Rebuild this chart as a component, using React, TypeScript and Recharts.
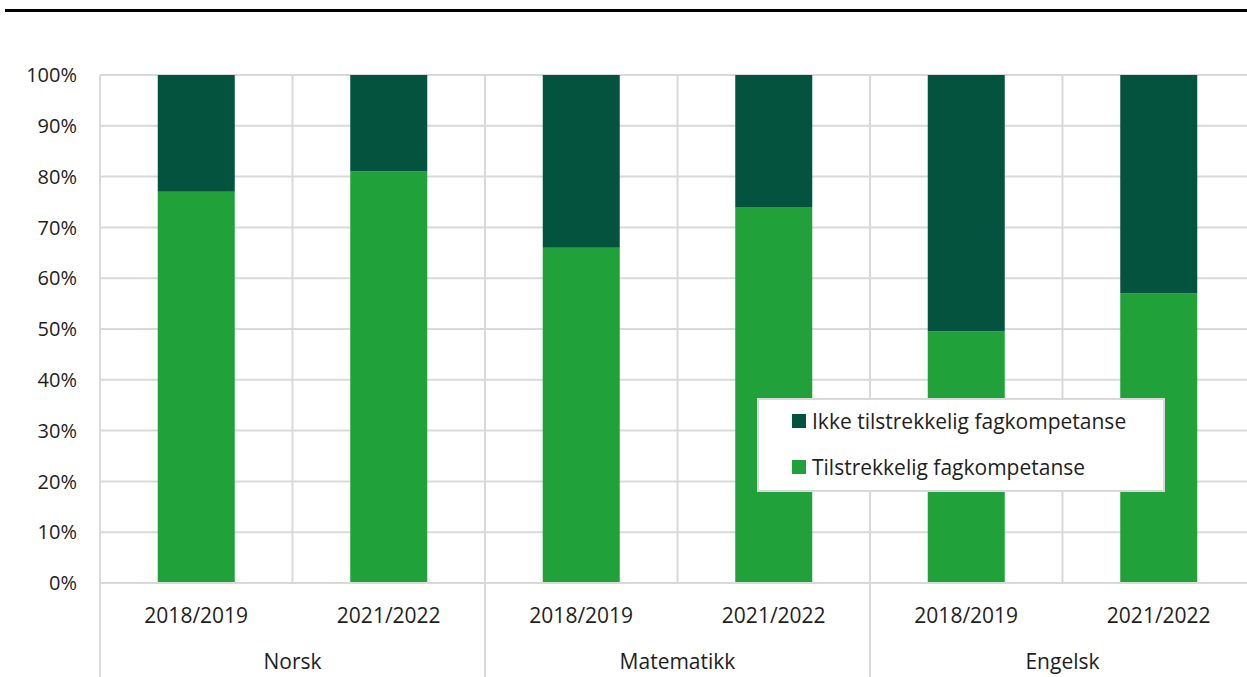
import React from "react";
import { Bar, BarChart, CartesianGrid, XAxis, YAxis } from "recharts";

const years = ["2018/2019", "2021/2022", "2018/2019", "2021/2022", "2018/2019", "2021/2022"];
const subjects = ["Norsk", "Norsk", "Matematikk", "Matematikk", "Engelsk", "Engelsk"];
const tilstrekkelig = [77, 81, 66, 74, 49.5, 57];
const ikkeTilstrekkelig = [23, 19, 34, 26, 50.5, 43];
const yTicks = [0, 10, 20, 30, 40, 50, 60, 70, 80, 90, 100];
const legendItems = ["Ikke tilstrekkelig fagkompetanse", "Tilstrekkelig fagkompetanse"];

const DARK = "#03533F";
const GREEN = "#21A13A";
const GRID = "#d9d9d9";
const TEXT = "#1e1e1e";
const FONT = "'Open Sans', 'Noto Sans', sans-serif";

const CHART_W = 1255;
const CHART_H = 677;
const LEFT = 100;
const TOP = 75;
const BAND = (CHART_W - LEFT) / years.length;

const data = years.map((year, i) => ({
  year,
  group: subjects[i],
  ok: tilstrekkelig[i],
  notOk: ikkeTilstrekkelig[i],
}));

// lower tier: subject name centred under its two years, with separators
const GroupTick = (props: any) => {
  const { x, y, payload, index } = props;
  const isStart = index === 0 || subjects[index - 1] !== payload.value;
  if (!isStart) return null;
  const left = x - BAND / 2;
  return (
    <g>
      <line x1={left} x2={left} y1={y - 47} y2={y + 50} stroke={GRID} strokeWidth={2} />
      <text
        x={x + BAND / 2}
        y={y + 39}
        textAnchor="middle"
        fill={TEXT}
        fontSize={21}
        fontFamily={FONT}
      >
        {payload.value}
      </text>
    </g>
  );
};

const LegendBox = () => (
  <div
    style={{
      position: "absolute",
      left: 757,
      top: 398,
      width: 404,
      height: 90,
      background: "#fff",
      border: `2px solid ${GRID}`,
      fontFamily: FONT,
      fontSize: 21,
      color: TEXT,
    }}
  >
    {legendItems.map((label, i) => (
      <div
        key={label}
        style={{ position: "absolute", left: 33, top: 7 + i * 46, display: "flex", alignItems: "center", height: 28, whiteSpace: "nowrap" }}
      >
        <span style={{ width: 14, height: 14, background: i === 0 ? DARK : GREEN, display: "inline-block", marginRight: 6 }} />
        <span style={{ lineHeight: "28px" }}>{label}</span>
      </div>
    ))}
  </div>
);

export default function App() {
  const vLines = Array.from({ length: years.length + 1 }, (_, i) => LEFT + i * BAND);
  return (
    <div
      style={{
        position: "absolute",
        left: 0,
        top: 0,
        width: 1247,
        height: 677,
        overflow: "hidden",
        background: "#fff",
      }}
    >
      <div style={{ position: "absolute", left: 5, top: 9, width: 1260, height: 3, background: "#000" }} />
      <BarChart
        width={CHART_W}
        height={CHART_H}
        data={data}
        margin={{ top: TOP, right: 0, left: 0, bottom: 0 }}
        barCategoryGap="30%"
      >
        <CartesianGrid
          stroke={GRID}
          strokeWidth={2}
          verticalCoordinatesGenerator={() => vLines}
        />
        <XAxis
          xAxisId="a_year"
          dataKey="year"
          height={47}
          axisLine={{ stroke: GRID, strokeWidth: 2 }}
          tickLine={false}
          tickSize={0}
          tickMargin={25}
          interval={0}
          tick={{ fill: TEXT, fontSize: 21, fontFamily: FONT }}
        />
        <XAxis
          xAxisId="b_group"
          dataKey="group"
          height={47}
          axisLine={false}
          tickLine={false}
          tickSize={0}
          tickMargin={0}
          interval={0}
          tick={<GroupTick />}
        />
        <YAxis
          width={LEFT}
          domain={[0, 100]}
          ticks={yTicks}
          tickFormatter={(v: number) => `${v}%`}
          axisLine={false}
          tickLine={false}
          tickSize={0}
          tickMargin={23}
          interval={0}
          tick={{ fill: TEXT, fontSize: 20, fontFamily: FONT }}
        />
        <Bar xAxisId="a_year" dataKey="ok" stackId="a" fill={GREEN} isAnimationActive={false} />
        <Bar xAxisId="a_year" dataKey="notOk" stackId="a" fill={DARK} isAnimationActive={false} />
      </BarChart>
      <LegendBox />
    </div>
  );
}
